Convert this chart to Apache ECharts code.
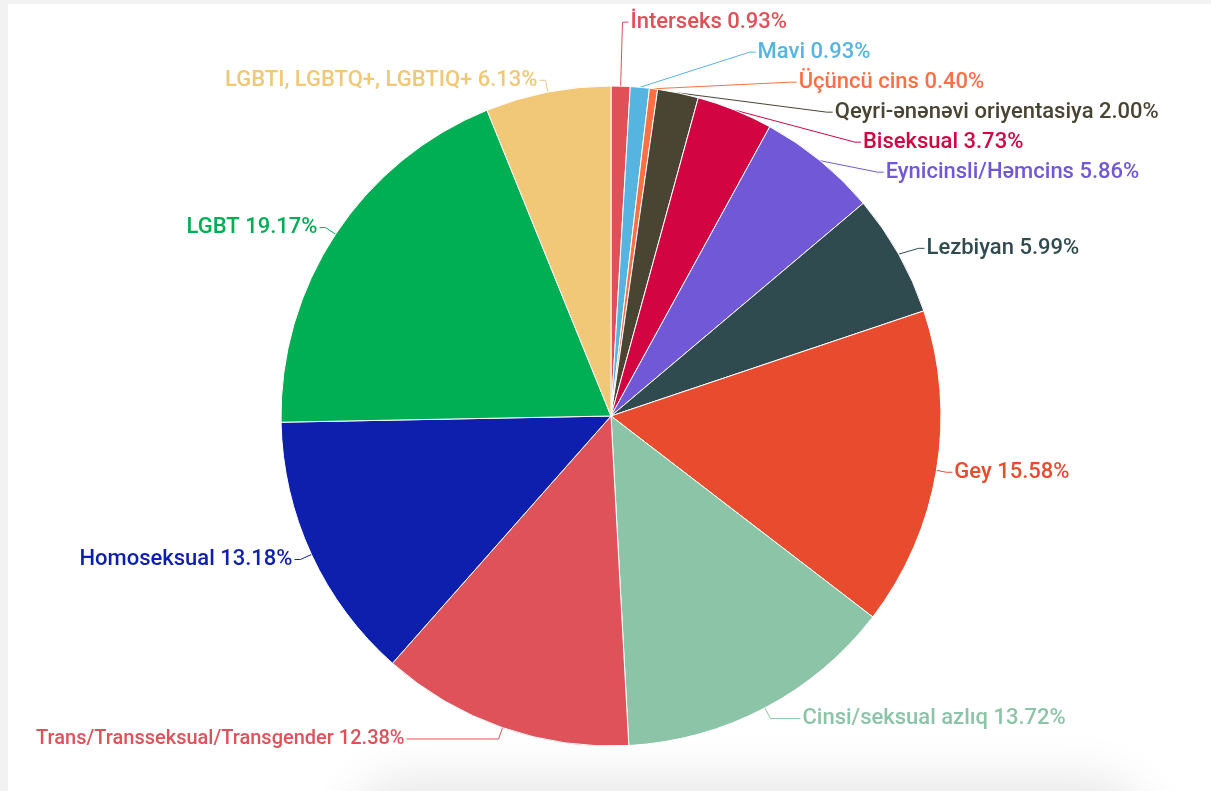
<!DOCTYPE html>
<html>
<head>
<meta charset="utf-8">
<script src="https://cdn.jsdelivr.net/npm/echarts@6/dist/echarts.min.js"></script>
<style>
  html, body { margin: 0; padding: 0; background: #f2f2f2; overflow: hidden; }
  #card { position: absolute; left: 8px; top: 4px; right: 0; bottom: 0; background: #fff; overflow: hidden; }
  #shade { position: absolute; left: 360px; width: 760px; top: 795px; height: 80px; border-radius: 40px;
           box-shadow: 0 0 50px 20px rgba(0,0,0,0.10); background: #eee; }
  #main { position: absolute; left: 0; top: 0; width: 1211px; height: 791px; }
</style>
</head>
<body>
<div id="card"><div id="shade"></div></div>
<div id="main"></div>
<script>
// kateqoriyalar, faizlər və rənglər
var names = [
  'İnterseks', 'Mavi', 'Üçüncü cins', 'Qeyri-ənənəvi oriyentasiya', 'Biseksual',
  'Eynicinsli/Həmcins', 'Lezbiyan', 'Gey', 'Cinsi/seksual azlıq',
  'Trans/Transseksual/Transgender', 'Homoseksual', 'LGBT', 'LGBTI, LGBTQ+, LGBTIQ+'
];
var values = [0.93, 0.93, 0.40, 2.00, 3.73, 5.86, 5.99, 15.58, 13.72, 12.38, 13.18, 19.17, 6.13];
var colors = [
  '#e05057', '#56b4e0', '#ff6f43', '#4a4433', '#d20442',
  '#7058d6', '#2f4b4f', '#e94b2f', '#8cc4a8',
  '#e05259', '#0e1fae', '#00ae53', '#f0c877'
];

var chart = echarts.init(document.getElementById('main'), null, { renderer: 'canvas' });

var data = [];
for (var i = 0; i < names.length; i++) {
  var lbl = { color: colors[i] };
  var line = { lineStyle: { color: colors[i] } };
  // yuxarıdakı kiçik dilimlərin etiketləri daha yuxarıda dayanır
  if (i === 0) line.length = 64;
  if (i === 1) line.length = 36;
  if (i === 8) line.length2 = 30;
  if (i === 9) { lbl.fontSize = 20; line.length2 = 92; }
  data.push({
    name: names[i],
    value: values[i],
    itemStyle: { color: colors[i] },
    label: lbl,
    labelLine: line
  });
}

var option = {
  backgroundColor: 'transparent',
  animation: false,
  series: [{
    type: 'pie',
    center: [611, 416],
    radius: [0, 330],
    startAngle: 90,
    clockwise: true,
    avoidLabelOverlap: true,
    data: data,
    itemStyle: { borderColor: '#fff', borderWidth: 1 },
    label: {
      fontFamily: 'Roboto',
      fontSize: 22,
      fontWeight: 500,
      lineHeight: 28,
      distanceToLabelLine: 2,
      formatter: function (p) { return p.name + ' ' + p.value.toFixed(2) + '%'; }
    },
    labelLine: { length: 12, length2: 6, lineStyle: { width: 1 } }
  }]
};
chart.setOption(option);
</script>
</body>
</html>
